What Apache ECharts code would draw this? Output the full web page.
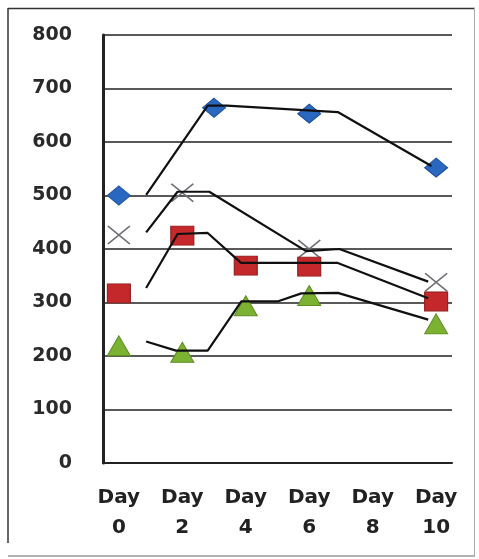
<!DOCTYPE html>
<html>
<head>
<meta charset="utf-8">
<script src="https://cdn.jsdelivr.net/npm/echarts@6/dist/echarts.min.js"></script>
<style>
html,body{margin:0;padding:0;background:#fff;}
#chart{width:479px;height:559px;}
</style>
</head>
<body>
<div id="chart"></div>
<script>
// Tick labels
const dayTicks = [0, 2, 4, 6, 8, 10];
const dayLabels = ['Day\n0', 'Day\n2', 'Day\n4', 'Day\n6', 'Day\n8', 'Day\n10'];

// Marker series (day, value)
const blueDays = [0, 3, 6, 10];
const blueValues = [500, 664, 653, 552];
const crossDays = [0, 2, 6, 10];
const crossValues = [426, 505, 400, 338];
const redDays = [0, 2, 4, 6, 10];
const redValues = [317, 425, 369, 367, 302];
const greenDays = [0, 2, 4, 6, 10];
const greenValues = [219, 207, 294, 313, 260];

// Black trend lines (day position, value)
const blueLineDays = [0.86, 2.8, 3.4, 6.9, 9.85];
const blueLineValues = [501, 668, 668, 656, 555];
const crossLineDays = [0.86, 1.85, 2.85, 5.9, 6.95, 9.75];
const crossLineValues = [431, 507, 507, 396, 400, 339];
const redLineDays = [0.86, 1.85, 2.8, 3.85, 6.9, 9.75];
const redLineValues = [327, 428, 430, 374, 374, 308];
const greenLineDays = [0.86, 1.8, 2.8, 3.86, 5.0, 5.75, 6.9, 9.75];
const greenLineValues = [227, 210, 210, 302, 302, 317, 318, 268];

const pair = (xs, ys) => xs.map((x, i) => [x, ys[i]]);

const chart = echarts.init(document.getElementById('chart'), null, {renderer: 'canvas'});

const lineSeries = (xs, ys) => ({
  type: 'line',
  data: pair(xs, ys),
  showSymbol: false,
  symbol: 'none',
  lineStyle: {color: '#101010', width: 2.2},
  z: 5,
  animation: false
});

chart.setOption({
  animation: false,
  backgroundColor: '#fff',
  grid: {left: 103, right: 27, top: 35, bottom: 96},
  xAxis: {
    type: 'value',
    min: -0.5,
    max: 10.5,
    axisLine: {show: true, onZero: false, lineStyle: {color: '#222', width: 2}},
    axisTick: {show: false},
    splitLine: {show: false},
    axisLabel: {
      customValues: dayTicks,
      formatter: v => dayLabels[dayTicks.indexOf(v)],
      fontFamily: 'DejaVu Sans',
      fontWeight: 'bold',
      fontSize: 20,
      color: '#222',
      lineHeight: 30,
      margin: 20,
      align: 'center'
    }
  },
  yAxis: {
    type: 'value',
    min: 0,
    max: 800,
    interval: 100,
    axisLine: {show: true, onZero: false, lineStyle: {color: '#222', width: 3}},
    axisTick: {show: false},
    splitLine: {show: true, lineStyle: {color: '#222', width: 1.5}},
    axisLabel: {
      fontFamily: 'DejaVu Sans',
      fontWeight: 'bold',
      fontSize: 19,
      color: '#2a2a2a',
      margin: 31
    }
  },
  graphic: [
    {type: 'line', shape: {x1: 8, y1: 8.5, x2: 475, y2: 8.5}, style: {stroke: '#333', lineWidth: 1.5}},
    {type: 'line', shape: {x1: 8, y1: 8, x2: 8, y2: 543}, style: {stroke: '#333', lineWidth: 1.5}},
    {type: 'line', shape: {x1: 474.5, y1: 8, x2: 474.5, y2: 556}, style: {stroke: '#aaa', lineWidth: 1}},
    {type: 'line', shape: {x1: 8, y1: 556, x2: 475, y2: 556}, style: {stroke: '#999', lineWidth: 1.5}}
  ],
  series: [
    {
      type: 'scatter', data: pair(blueDays, blueValues), symbol: 'diamond', symbolSize: [23, 19],
      itemStyle: {color: '#2a68c0', borderColor: '#1b4f9c', borderWidth: 1, opacity: 1}, z: 3
    },
    {
      type: 'scatter', data: pair(crossDays, crossValues), symbol: 'path://M0,0L10,8M10,0L0,8', symbolSize: [22, 18],
      itemStyle: {color: 'rgba(0,0,0,0)', borderColor: '#6e6e76', borderWidth: 1.6, opacity: 1}, z: 3
    },
    {
      type: 'scatter', data: pair(redDays, redValues), symbol: 'rect', symbolSize: [23, 19],
      itemStyle: {color: '#c4282a', borderColor: '#8e1c1c', borderWidth: 1, opacity: 1}, z: 3
    },
    {
      type: 'scatter', data: pair(greenDays, greenValues), symbol: 'triangle', symbolSize: [23, 20],
      itemStyle: {color: '#7cb232', borderColor: '#5e8e22', borderWidth: 1, opacity: 1}, z: 3
    },
    lineSeries(blueLineDays, blueLineValues),
    lineSeries(crossLineDays, crossLineValues),
    lineSeries(redLineDays, redLineValues),
    lineSeries(greenLineDays, greenLineValues)
  ]
});
</script>
</body>
</html>
